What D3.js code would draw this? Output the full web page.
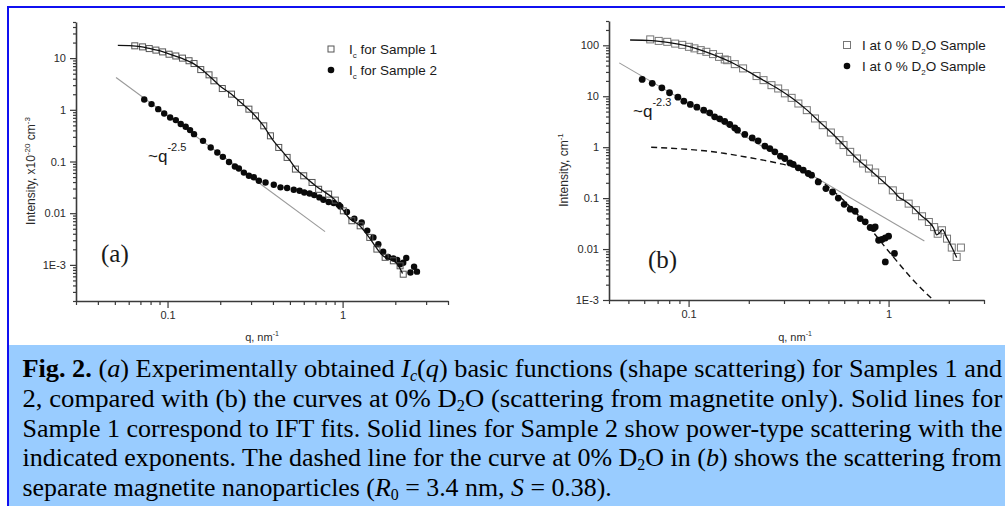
<!DOCTYPE html>
<html>
<head>
<meta charset="utf-8">
<script src="https://cdn.jsdelivr.net/npm/d3@7/dist/d3.min.js"></script>
<style>
  html, body { margin: 0; padding: 0; background: #fff; }
  svg { display: block; }
</style>
</head>
<body>
<svg id="chart" width="1005" height="506"></svg>
<script>
// ---------------- DATA ----------------
// Panel (a): Ic for Sample 1 (open squares) [q, I]
const aSample1 = [
  [0.065,17.3],[0.072,16.5],[0.0786,15.3],[0.0858,14.3],[0.0937,13.2],[0.102,11.9],[0.1115,11.0],
  [0.1217,10.0],[0.1327,8.9],[0.1417,7.86],[0.1548,6.0],[0.1726,4.75],[0.184,3.64],[0.2055,2.58],
  [0.232,2.01],[0.2614,1.38],[0.2916,1.03],[0.3182,0.765],[0.3545,0.49],[0.387,0.314],[0.4318,0.187],
  [0.482,0.12],[0.5377,0.0713],[0.5997,0.0529],[0.669,0.0393],[0.7296,0.029],[0.832,0.0234],
  [0.9085,0.0179],[1.01,0.0111],[1.13,0.00714],[1.26,0.0057],[1.43,0.0034],[1.57,0.00202],
  [1.75,0.0014],[1.95,0.0012],[2.13,0.00096],[2.22,0.00066]
];
// Panel (a): IFT fit for Sample 1 (solid black line)
const aFit1 = [
  [0.052,17.6],[0.06,17.4],[0.07,16.7],[0.08,15.2],[0.09,13.9],[0.1,12.3],[0.12,10.0],[0.14,7.9],
  [0.16,5.7],[0.18,4.0],[0.2,2.85],[0.23,2.05],[0.26,1.42],[0.3,0.93],[0.35,0.51],[0.4,0.26],
  [0.45,0.16],[0.5,0.105],[0.55,0.068],[0.6,0.053],[0.7,0.034],[0.8,0.025],[0.9,0.0185],[1.0,0.0118],
  [1.1,0.0078],[1.25,0.0058],[1.4,0.0036],[1.55,0.0022],[1.7,0.0015],[1.9,0.00125],[2.05,0.00105],[2.2,0.00068]
];
// Panel (a): Ic for Sample 2 (filled circles)
const aSample2 = [
  [0.0736,1.58],[0.081,1.29],[0.0885,1.03],[0.0957,0.85],[0.1035,0.71],[0.1115,0.632],[0.119,0.53],
  [0.127,0.469],[0.1345,0.405],[0.1417,0.338],[0.1595,0.251],[0.1764,0.187],[0.1925,0.149],[0.207,0.123],
  [0.2245,0.098],[0.2426,0.08],[0.2556,0.073],[0.273,0.061],[0.2916,0.053],[0.311,0.0495],[0.3325,0.0423],
  [0.363,0.0393],[0.4045,0.0355],[0.4418,0.0316],[0.482,0.0307],[0.526,0.0284],[0.568,0.0272],
  [0.604,0.0251],[0.648,0.024],[0.689,0.0224],[0.737,0.0202],[0.777,0.0182],[0.832,0.0165],[0.89,0.0157],
  [0.95,0.0145],[0.97,0.0135],[1.059,0.0106],[1.167,0.0078],[1.285,0.0066],[1.383,0.0046],[1.5,0.0034],
  [1.6,0.0025],[1.705,0.0018],[1.82,0.00142],[1.95,0.00133],[2.05,0.00124],[2.13,0.00103],[2.22,0.0011],
  [2.31,0.00136],[2.44,0.00071],[2.56,0.00092],[2.66,0.00074]
];
// Panel (a): power-law guide ~q^-2.5 (grey line, end points)
const aPower = [[0.0508,4.22],[0.794,0.0044]];

// Panel (b): I at 0 % D2O Sample 1 (open squares)
const bSample1 = [
  [0.0643,130.6],[0.0709,122],[0.0782,117],[0.0857,108],[0.093,102],[0.1004,93.4],[0.107,87],[0.115,80.4],
  [0.1227,74.5],[0.1325,67.2],[0.142,59.3],[0.1516,52.7],[0.156,51],[0.1702,42.7],[0.1873,35.2],
  [0.2187,24.9],[0.237,20.7],[0.2597,16.5],[0.2805,14.2],[0.303,11.4],[0.3275,9.3],[0.354,7.2],[0.39,5.33],
  [0.4286,3.66],[0.4687,2.7],[0.5147,1.94],[0.568,1.37],[0.5953,1.1],[0.6428,0.81],[0.695,0.6],
  [0.7457,0.478],[0.7973,0.381],[0.857,0.318],[0.927,0.225],[1.05,0.142],[1.14,0.106],[1.26,0.078],
  [1.37,0.058],[1.47,0.044],[1.59,0.034],[1.69,0.027],[1.76,0.02],[1.85,0.0234],[1.96,0.016],
  [2.07,0.0107],[2.19,0.007],[2.3,0.0107]
];
// Panel (b): IFT fit for Sample 1
const bFit1 = [
  [0.051,127],[0.065,124],[0.08,113],[0.1,95],[0.12,76],[0.15,54],[0.17,43],[0.2,30],[0.24,20],
  [0.28,14],[0.33,9.1],[0.39,5.4],[0.45,3.2],[0.52,1.9],[0.6,1.07],[0.7,0.58],[0.8,0.37],[0.93,0.22],
  [1.05,0.142],[1.14,0.1],[1.2,0.09],[1.26,0.078],[1.37,0.058],[1.47,0.044],[1.59,0.034],[1.68,0.026],
  [1.74,0.019],[1.8,0.021],[1.86,0.024],[1.95,0.017],[2.07,0.011],[2.19,0.0068]
];
// Panel (b): I at 0 % D2O Sample 2 (filled circles)
const bSample2 = [
  [0.0586,21.4],[0.0658,17.9],[0.0735,14.6],[0.0803,11.7],[0.0884,9.6],[0.0947,8.0],[0.102,6.9],[0.11,6.1],
  [0.119,5.33],[0.1275,4.72],[0.135,3.94],[0.143,3.6],[0.1516,3.2],[0.1607,2.79],[0.1703,2.39],[0.1756,2.16],
  [0.191,1.78],[0.208,1.52],[0.2227,1.33],[0.2407,1.05],[0.2549,0.94],[0.27,0.81],[0.288,0.665],[0.303,0.6],
  [0.3211,0.49],[0.3336,0.46],[0.3535,0.393],[0.3744,0.354],[0.3965,0.304],[0.412,0.282],[0.4448,0.208],
  [0.486,0.154],[0.5247,0.132],[0.5604,0.1],[0.6,0.0757],[0.6428,0.0606],[0.6811,0.0552],[0.7214,0.0397],
  [0.764,0.0343],[0.809,0.0265],[0.8412,0.0252],[0.857,0.0272],[0.8916,0.0149],[0.927,0.0154],
  [0.9633,0.0165],[1.0,0.0179],[0.963,0.0056],[1.07,0.0082]
];
// Panel (b): power-law guide ~q^-2.3
const bPower = [[0.045,45.2],[1.51,0.0144]];
// Panel (b): separate magnetite nanoparticles (dashed line)
const bDashed = [
  [0.065,1.0],[0.09,0.93],[0.12,0.85],[0.15,0.76],[0.19,0.65],[0.24,0.55],[0.29,0.47],[0.33,0.42],
  [0.4,0.3],[0.47,0.2],[0.55,0.12],[0.65,0.065],[0.75,0.035],[0.85,0.02],[0.96,0.011],[1.1,0.0058],
  [1.3,0.0027],[1.5,0.0015],[1.65,0.00105]
];

// Tick values / labels
const aXTicks = [0.1, 1];
const aXTickLabels = ["0.1", "1"];
const aYTicks = [10, 1, 0.1, 0.01, 0.001];
const aYTickLabels = ["10", "1", "0.1", "0.01", "1E-3"];
const bXTicks = [0.1, 1];
const bXTickLabels = ["0.1", "1"];
const bYTicks = [100, 10, 1, 0.1, 0.01, 0.001];
const bYTickLabels = ["100", "10", "1", "0.1", "0.01", "1E-3"];

// ---------------- DRAW ----------------
const svg = d3.select("#chart");
const SANS = "'Liberation Sans', Arial, sans-serif";
const SERIF = "'Liberation Serif', 'Times New Roman', serif";

// page frame
svg.append("rect").attr("x", 0).attr("y", 0).attr("width", 1005).attr("height", 506).attr("fill", "#fff");
svg.append("rect").attr("x", 9).attr("y", 345).attr("width", 996).attr("height", 161).attr("fill", "#99ccff");
svg.append("rect").attr("x", 7).attr("y", 6).attr("width", 998).attr("height", 2).attr("fill", "#1010f0");
svg.append("rect").attr("x", 7).attr("y", 6).attr("width", 2).attr("height", 500).attr("fill", "#1010f0");

function minorTicks(domain) {
  const out = [];
  const lo = Math.floor(Math.log10(domain[0])), hi = Math.ceil(Math.log10(domain[1]));
  for (let e = lo; e <= hi; e++) {
    for (let k = 2; k <= 9; k++) {
      const v = k * Math.pow(10, e);
      if (v >= domain[0] * 0.999 && v <= domain[1] * 1.001) out.push(v);
    }
  }
  return out;
}

function panel(cfg) {
  const g = svg.append("g");
  const x = d3.scaleLog().domain(cfg.xDomain).range(cfg.xRange);
  const y = d3.scaleLog().domain(cfg.yDomain).range(cfg.yRange);
  const axisColor = "#3a3a3a";

  const xMinor = g.append("g").attr("transform", `translate(0,${cfg.yRange[0]})`)
    .call(d3.axisBottom(x).tickValues(minorTicks(cfg.xDomain)).tickSize(4).tickSizeOuter(0).tickFormat(""));
  const yMinor = g.append("g").attr("transform", `translate(${cfg.xRange[0]},0)`)
    .call(d3.axisLeft(y).tickValues(minorTicks(cfg.yDomain)).tickSize(3).tickSizeOuter(0).tickFormat(""));
  const xMajor = g.append("g").attr("transform", `translate(0,${cfg.yRange[0]})`)
    .call(d3.axisBottom(x).tickValues(cfg.xTicks).tickSize(7).tickPadding(3).tickSizeOuter(0)
      .tickFormat((d, i) => cfg.xTickLabels[i]));
  const yMajor = g.append("g").attr("transform", `translate(${cfg.xRange[0]},0)`)
    .call(d3.axisLeft(y).tickValues(cfg.yTicks).tickSize(6).tickPadding(4).tickSizeOuter(0)
      .tickFormat((d, i) => cfg.yTickLabels[i]));
  [xMinor, yMinor, xMajor, yMajor].forEach(a => {
    a.select(".domain").attr("stroke", axisColor).attr("stroke-width", 1.6);
    a.selectAll(".tick line").attr("stroke", axisColor).attr("stroke-width", 1.2);
    a.selectAll(".tick text").attr("fill", "#2a2a2a").style("font-family", SANS).style("font-size", "11px");
  });
  xMinor.select(".domain").remove();
  yMinor.select(".domain").remove();

  const plot = g.append("g").attr("clip-path", `url(#${cfg.clipId})`);
  const line = d3.line().x(d => x(d[0])).y(d => y(d[1]));
  const smooth = d3.line().x(d => x(d[0])).y(d => y(d[1])).curve(d3.curveMonotoneX);

  plot.append("path").datum(cfg.power).attr("d", line)
    .attr("fill", "none").attr("stroke", "#9a9a9a").attr("stroke-width", 1.1);
  if (cfg.dashed) {
    plot.append("path").datum(cfg.dashed).attr("d", smooth)
      .attr("fill", "none").attr("stroke", "#111").attr("stroke-width", 1.4).attr("stroke-dasharray", "6,4");
  }
  plot.append("g").selectAll("circle").data(cfg.s2).join("circle")
    .attr("cx", d => x(d[0])).attr("cy", d => y(d[1])).attr("r", cfg.r).attr("fill", "#0a0a0a");
  const sq = cfg.sq;
  plot.append("g").selectAll("rect").data(cfg.s1).join("rect")
    .attr("x", d => x(d[0]) - sq / 2).attr("y", d => y(d[1]) - sq / 2)
    .attr("width", sq).attr("height", sq)
    .attr("fill", "none").attr("stroke", cfg.sqStroke).attr("stroke-width", 1);
  plot.append("path").datum(cfg.fit).attr("d", smooth)
    .attr("fill", "none").attr("stroke", "#111").attr("stroke-width", 1.3);

  return { g, x, y };
}

const defs = svg.append("defs");
defs.append("clipPath").attr("id", "clipA").append("rect").attr("x", 60).attr("y", 10).attr("width", 400).attr("height", 291);
defs.append("clipPath").attr("id", "clipB").append("rect").attr("x", 600).attr("y", 10).attr("width", 388).attr("height", 290);
defs.append("clipPath").attr("id", "clipLegB").append("rect").attr("x", 820).attr("y", 20).attr("width", 170).attr("height", 70);

panel({
  xDomain: [0.03, 4], xRange: [76, 448], yDomain: [2e-4, 50], yRange: [301, 22],
  xTicks: aXTicks, xTickLabels: aXTickLabels, yTicks: aYTicks, yTickLabels: aYTickLabels,
  s1: aSample1, fit: aFit1, s2: aSample2, power: aPower, clipId: "clipA",
  r: 3.2, sq: 6, sqStroke: "#555"
});
panel({
  xDomain: [0.04, 3], xRange: [609, 984], yDomain: [1e-3, 300], yRange: [300, 21],
  xTicks: bXTicks, xTickLabels: bXTickLabels, yTicks: bYTicks, yTickLabels: bYTickLabels,
  s1: bSample1, fit: bFit1, s2: bSample2, power: bPower, dashed: bDashed, clipId: "clipB",
  r: 3.4, sq: 7, sqStroke: "#777"
});

function txt(parent, x, y, family, size, anchor) {
  return parent.append("text").attr("x", x).attr("y", y)
    .style("font-family", family).style("font-size", size + "px")
    .attr("text-anchor", anchor || "start").attr("fill", "#1a1a1a");
}
// ---- panel (a) texts
{
  const t = svg.append("text").attr("transform", "translate(35,171) rotate(-90)")
    .attr("text-anchor", "middle").style("font-family", SANS).style("font-size", "12px").attr("fill", "#2a2a2a");
  t.append("tspan").text("Intensity, x10");
  t.append("tspan").attr("dy", -5).style("font-size", "8px").text("-20");
  t.append("tspan").attr("dy", 5).text(" cm");
  t.append("tspan").attr("dy", -5).style("font-size", "8px").text("-3");
}
{
  const t = txt(svg, 262, 341, SANS, 11, "middle").attr("fill", "#2a2a2a");
  t.append("tspan").text("q, nm");
  t.append("tspan").attr("dy", -5).style("font-size", "7px").text("-1");
}
svg.append("rect").attr("x", 328).attr("y", 46).attr("width", 6).attr("height", 6)
  .attr("fill", "none").attr("stroke", "#555");
svg.append("circle").attr("cx", 331).attr("cy", 70).attr("r", 3.3).attr("fill", "#0a0a0a");
[["1", 54], ["2", 75]].forEach(([n, yy]) => {
  const t = txt(svg, 349, yy, SANS, 13.5);
  t.append("tspan").text("I");
  t.append("tspan").attr("dy", 4).style("font-size", "8px").text("c");
  t.append("tspan").attr("dy", -4).text(" for Sample " + n);
});
{
  const t = txt(svg, 148, 162, SANS, 17);
  t.append("tspan").text("~q");
  t.append("tspan").attr("dy", -11).style("font-size", "11px").text("-2.5");
}
txt(svg, 101, 262, SERIF, 25).text("(a)");

// ---- panel (b) texts
{
  const t = svg.append("text").attr("transform", "translate(568,170) rotate(-90)")
    .attr("text-anchor", "middle").style("font-family", SANS).style("font-size", "12px").attr("fill", "#2a2a2a");
  t.append("tspan").text("Intensity, cm");
  t.append("tspan").attr("dy", -5).style("font-size", "8px").text("-1");
}
{
  const t = txt(svg, 795, 341, SANS, 11, "middle").attr("fill", "#2a2a2a");
  t.append("tspan").text("q, nm");
  t.append("tspan").attr("dy", -5).style("font-size", "7px").text("-1");
}
{
  const leg = svg.append("g").attr("clip-path", "url(#clipLegB)");
  leg.append("rect").attr("x", 843.5).attr("y", 41.5).attr("width", 7).attr("height", 7)
    .attr("fill", "none").attr("stroke", "#777");
  leg.append("circle").attr("cx", 847).attr("cy", 66).attr("r", 3.3).attr("fill", "#0a0a0a");
  [["1", 50], ["2", 70.5]].forEach(([n, yy]) => {
    const t = txt(leg, 862, yy, SANS, 13.5);
    t.append("tspan").text("I at 0 % D");
    t.append("tspan").attr("dy", 4).style("font-size", "8px").text("2");
    t.append("tspan").attr("dy", -4).text("O Sample " + n);
  });
}
{
  const t = txt(svg, 633, 117, SANS, 17);
  t.append("tspan").text("~q");
  t.append("tspan").attr("dy", -11).style("font-size", "11px").text("-2.3");
}
txt(svg, 648, 268, SERIF, 25).text("(b)");

// ---------------- CAPTION ----------------
const captionLines = [
  [["Fig. 2.", "b"], [" (", ""], ["a", "i"], [") Experimentally obtained ", ""], ["I", "i"], ["c", "is"], ["(", ""], ["q", "i"], [") basic functions (shape scattering) for Samples 1 and", ""]],
  [["2, compared with (b) the curves at 0% D", ""], ["2", "s"], ["O (scattering from magnetite only). Solid lines for", ""]],
  [["Sample 1 correspond to IFT fits. Solid lines for Sample 2 show power-type scattering with the", ""]],
  [["indicated exponents. The dashed line for the curve at 0% D", ""], ["2", "s"], ["O in (", ""], ["b", "i"], [") shows the scattering from", ""]],
  [["separate magnetite nanoparticles (", ""], ["R", "i"], ["0", "s"], [" = 3.4 nm, ", ""], ["S", "i"], [" = 0.38).", ""]]
];
const captionBaselines = [377, 407, 436.5, 466, 496];
const captionEnds = [1003, 1003, 1003, 1002, 612];
const capX = 22.5;
captionLines.forEach((parts, li) => {
  const g = svg.append("g");
  const t = g.append("text").attr("x", 0).attr("y", 0)
    .style("font-family", SERIF).style("font-size", "26px").attr("fill", "#000");
  let shifted = false;
  parts.forEach(([s, st]) => {
    const sp = t.append("tspan").text(s);
    if (st.includes("b")) sp.style("font-weight", "bold");
    if (st.includes("i")) sp.style("font-style", "italic");
    if (st.includes("s")) {
      sp.attr("dy", 4).style("font-size", "16px");
      shifted = true;
    } else if (shifted) {
      sp.attr("dy", -4);
      shifted = false;
    }
  });
  const w = t.node().getComputedTextLength();
  const target = captionEnds[li] - capX;
  g.attr("transform", `translate(${capX},${captionBaselines[li]}) scale(${target / w},1)`);
});
</script>
</body>
</html>
